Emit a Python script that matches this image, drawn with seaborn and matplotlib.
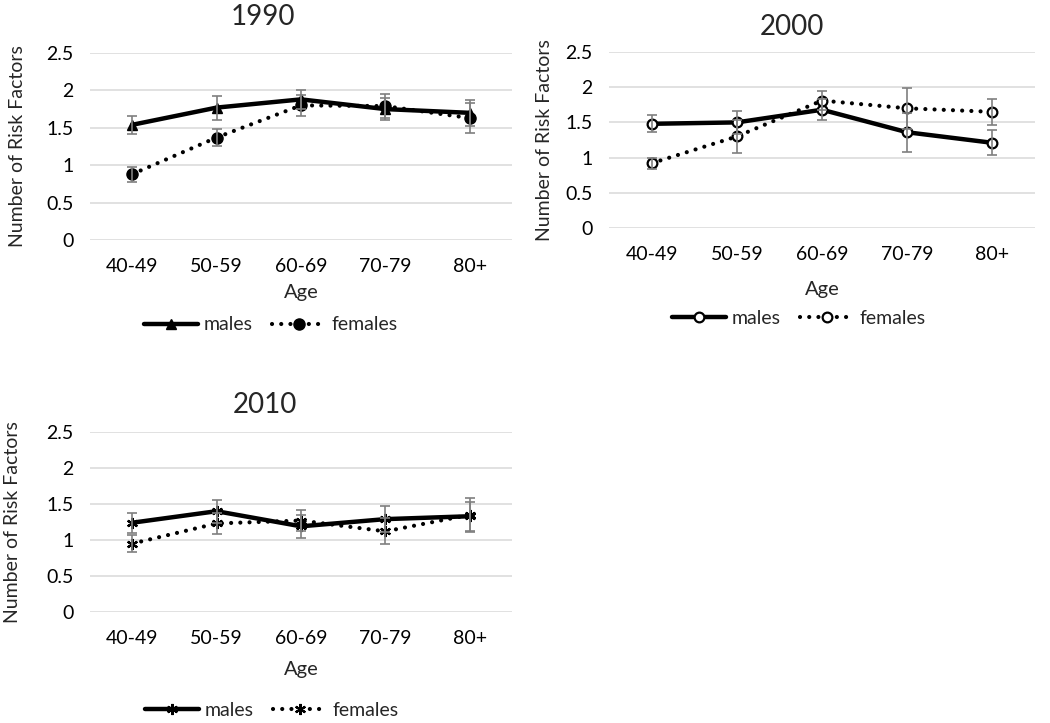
import numpy as np
import pandas as pd
import matplotlib
matplotlib.use("Agg")
import matplotlib.pyplot as plt
import seaborn as sns

ages = ["40-49", "50-59", "60-69", "70-79", "80+"]

m1990 = [1.54, 1.77, 1.88, 1.75, 1.70]
m1990_err = [0.12, 0.16, 0.13, 0.15, 0.17]
f1990 = [0.88, 1.37, 1.80, 1.79, 1.63]
f1990_err = [0.10, 0.12, 0.14, 0.16, 0.20]

m2000 = [1.48, 1.50, 1.68, 1.36, 1.21]
m2000_err = [0.12, 0.16, 0.15, 0.28, 0.18]
f2000 = [0.92, 1.30, 1.81, 1.70, 1.65]
f2000_err = [0.08, 0.24, 0.14, 0.29, 0.18]

m2010 = [1.24, 1.40, 1.19, 1.29, 1.33]
m2010_err = [0.14, 0.16, 0.16, 0.18, 0.20]
f2010 = [0.95, 1.23, 1.27, 1.12, 1.35]
f2010_err = [0.115, 0.15, 0.15, 0.18, 0.24]

years = ["1990", "2000", "2010"]
yticks = [0, 0.5, 1, 1.5, 2, 2.5]
ytick_labels = ["0", "0.5", "1", "1.5", "2", "2.5"]

sns.set_theme(style="white")
plt.rcParams["font.family"] = ["Lato", "DejaVu Sans"]

W, H = 1050, 723
fig = plt.figure(figsize=(10.5, 7.23), dpi=100)

panels = [
    dict(year="1990", m=m1990, me=m1990_err, f=f1990, fe=f1990_err,
         box=(90, 512, 53, 240), title=(263, 17), leg=(271, 325), xl=293, yl=18,
         marker="^"),
    dict(year="2000", m=m2000, me=m2000_err, f=f2000, fe=f2000_err,
         box=(609, 1035, 52, 228), title=(792, 27), leg=(799, 318), xl=289, yl=545,
         marker="o"),
    dict(year="2010", m=m2010, me=m2010_err, f=f2010, fe=f2010_err,
         box=(90, 512, 432, 612), title=(265, 405), leg=(272, 710), xl=670, yl=13,
         marker=(6, 2, 0)),
]

for p in panels:
    l, r, t, b = p["box"]
    ax = fig.add_axes([l / W, 1 - b / H, (r - l) / W, (b - t) / H])
    df = pd.DataFrame({
        "Age": ages * 2,
        "value": p["m"] + p["f"],
        "sex": ["males"] * 5 + ["females"] * 5,
    })
    mk = p["marker"]
    if mk == "o":
        msz = 7
        mkw = dict(markerfacecolor="white", markeredgecolor="black", markeredgewidth=1.6)
        fmsz = 7
    elif mk == "^":
        msz = 7
        mkw = dict(markerfacecolor="black", markeredgecolor="black", markeredgewidth=1)
        fmsz = 8
    else:
        msz = 8
        mkw = dict(markerfacecolor="black", markeredgecolor="black", markeredgewidth=1.6)
        fmsz = 8
    fmarker = "o" if mk == "^" else mk

    sns.lineplot(data=df[df.sex == "males"], x="Age", y="value", ax=ax,
                 color="black", lw=3.2, marker=mk, markersize=msz, label="males",
                 zorder=3, **mkw)
    sns.lineplot(data=df[df.sex == "females"], x="Age", y="value", ax=ax,
                 color="black", lw=3.0, marker=fmarker, markersize=fmsz,
                 label="females", zorder=3, **mkw)
    lines = ax.get_lines()
    lines[-1].set_linestyle((0, (0.01, 2.2)))
    lines[-1].set_dash_capstyle("round")

    ax.errorbar(ages, p["m"], yerr=p["me"], fmt="none", ecolor="#7f7f7f",
                elinewidth=1.2, capsize=3.6, capthick=1.2, zorder=4)
    ax.errorbar(ages, p["f"], yerr=p["fe"], fmt="none", ecolor="#7f7f7f",
                elinewidth=1.2, capsize=3.6, capthick=1.2, zorder=4)

    ax.set_xlim(-0.5, 4.5)
    ax.set_ylim(0, 2.5)
    ax.set_yticks(yticks)
    ax.set_yticklabels(ytick_labels)
    ax.yaxis.grid(True, color="#d9d9d9", lw=1.1)
    ax.set_axisbelow(True)
    for s in ax.spines.values():
        s.set_visible(False)
    ax.tick_params(axis="both", length=0, labelsize=14, colors="black")
    ax.tick_params(axis="y", pad=12)
    ax.tick_params(axis="x", pad=13)

    ax.set_xlabel("Age", fontsize=14.5)
    ax.xaxis.set_label_coords(0.5, (b - p["xl"]) / (b - t))
    ax.set_ylabel("Number of Risk Factors", fontsize=14)
    ax.yaxis.set_label_coords((p["yl"] - l) / (r - l), 0.5)
    ax.xaxis.label.set_va("center")
    ax.yaxis.label.set_va("center")

    tx, ty = p["title"]
    fig.text(tx / W, 1 - ty / H, p["year"], ha="center", va="center", fontsize=20)

    if ax.legend_:
        ax.legend_.remove()
    h, lab = ax.get_legend_handles_labels()
    lx, ly = p["leg"]
    fig.legend(h, lab, loc="center", bbox_to_anchor=(lx / W, 1 - ly / H),
               ncol=2, frameon=False, fontsize=14, handlelength=2.75,
               columnspacing=1.0, handletextpad=0.3, borderpad=0, borderaxespad=0)

fig.savefig("out.png", dpi=100)
